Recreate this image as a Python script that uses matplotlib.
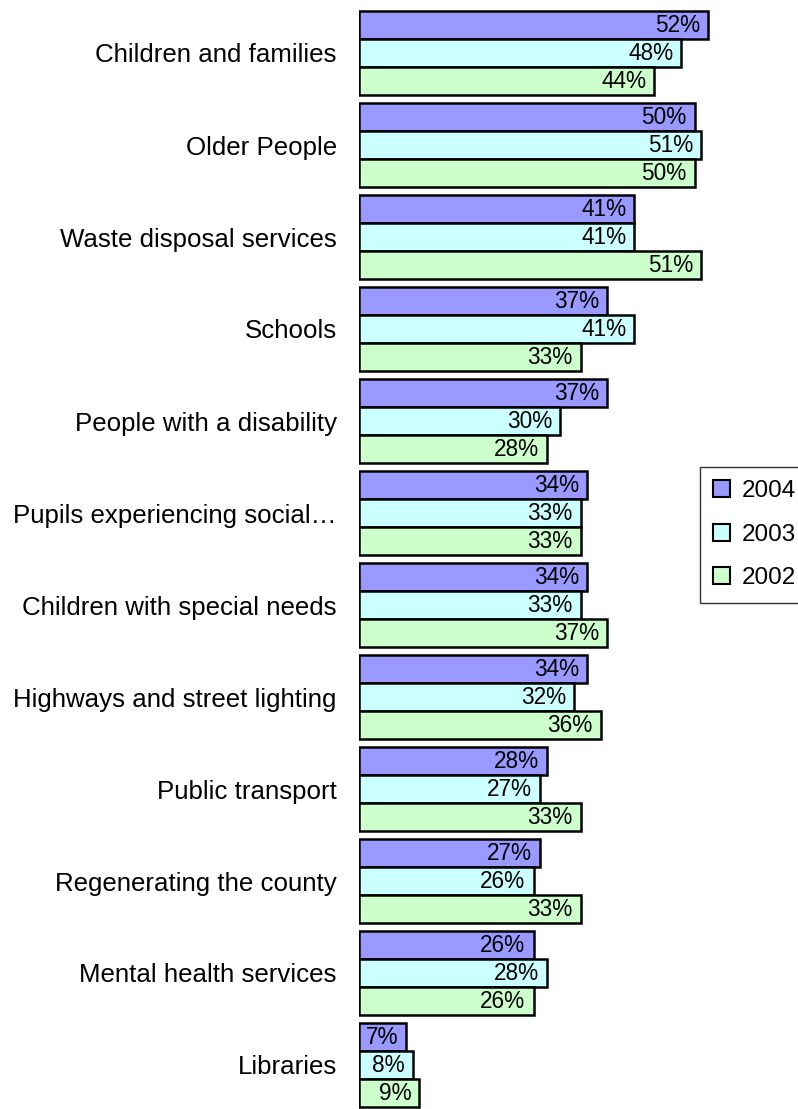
import matplotlib.pyplot as plt
import numpy as np
from matplotlib.patches import Patch

categories = ['Children and families', 'Older People', 'Waste disposal services',
              'Schools', 'People with a disability', 'Pupils experiencing social…',
              'Children with special needs', 'Highways and street lighting',
              'Public transport', 'Regenerating the county', 'Mental health services',
              'Libraries']
v2004 = [52, 50, 41, 37, 37, 34, 34, 34, 28, 27, 26, 7]
v2003 = [48, 51, 41, 41, 30, 33, 33, 32, 27, 26, 28, 8]
v2002 = [44, 50, 51, 33, 28, 33, 37, 36, 33, 33, 26, 9]
years = ['2004', '2003', '2002']
colors = ['#9999FF', '#CCFFFF', '#CCFFCC']

plt.rcParams['font.family'] = ['Liberation Sans', 'DejaVu Sans']

W, H = 798, 1109
fig = plt.figure(figsize=(W / 100, H / 100), dpi=100)
ax = fig.add_axes([359 / W, (H - 1111) / H, 439 / W, 1104 / H])

y = np.arange(len(categories))
h = 0.304
series = [v2004, v2003, v2002]
for i, (vals, c) in enumerate(zip(series, colors)):
    bars = ax.barh(y + (i - 1) * h, vals, height=h, color=c,
                   edgecolor='black', linewidth=1.8)
    for b, v in zip(bars, vals):
        ax.text(b.get_width() - 1.2, b.get_y() + b.get_height() / 2 + 0.01,
                f'{v}%', ha='right', va='center', fontsize=16.3)

ax.set_xlim(0, 65.4)
ax.set_ylim(11.5, -0.5)
ax.set_yticks(y)
ax.set_yticklabels(categories, fontsize=18.6)
ax.set_xticks([])
ax.tick_params(axis='y', length=0, pad=16)
for s in ax.spines.values():
    s.set_visible(False)

handles = [Patch(facecolor=c, edgecolor='black', linewidth=1.5) for c in colors]
leg = fig.legend(handles, years, loc='upper left',
                 bbox_to_anchor=(700 / W, 1 - 467 / H), fontsize=17.5,
                 frameon=True, fancybox=False, edgecolor='black',
                 handlelength=0.7, handleheight=0.7, handletextpad=0.45,
                 labelspacing=0.88, borderpad=0.55, borderaxespad=0)
leg.get_frame().set_linewidth(1.0)

fig.savefig('out.png', dpi=100)
